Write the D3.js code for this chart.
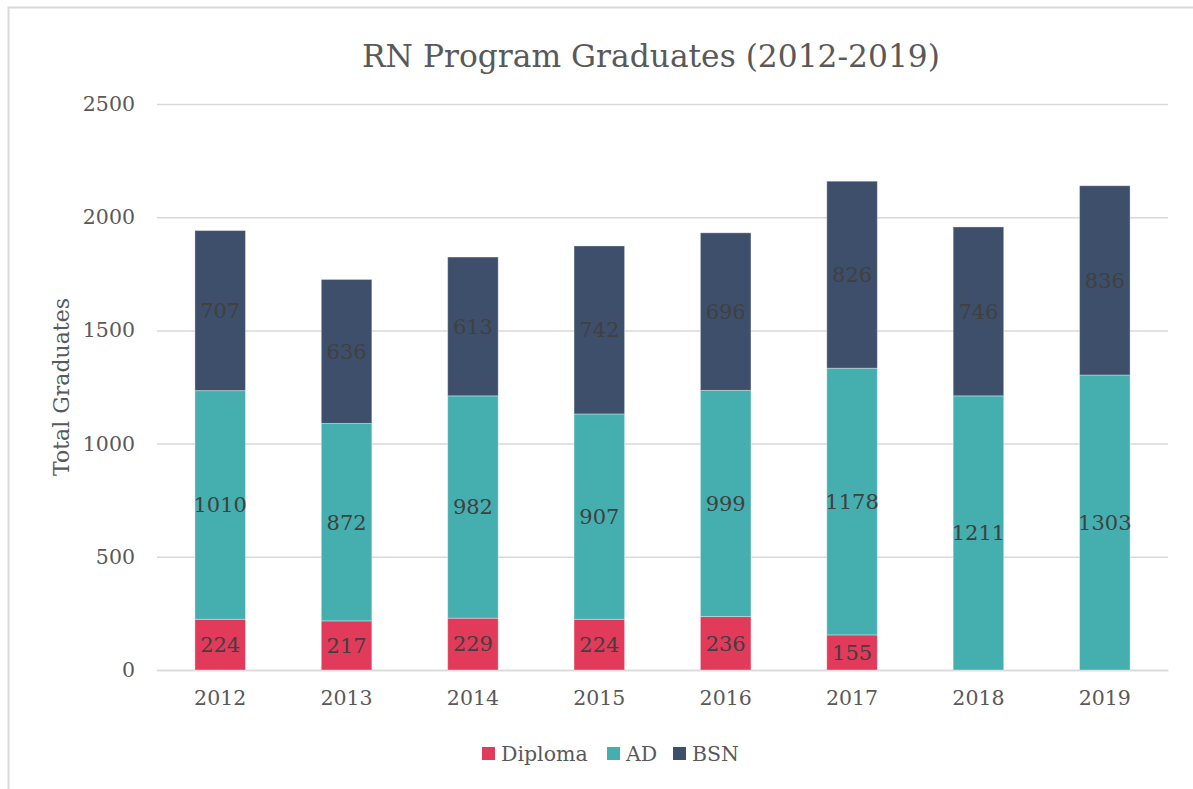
<!DOCTYPE html>
<html><head><meta charset="utf-8">
<script src="https://cdn.jsdelivr.net/npm/d3@7"></script>
<style>body{margin:0;background:#fff}svg{display:block}</style>
</head><body>
<svg id="c" width="1193" height="789"></svg>
<script>
const years = ["2012","2013","2014","2015","2016","2017","2018","2019"];
const diploma = [224,217,229,224,236,155,0,0];
const ad = [1010,872,982,907,999,1178,1211,1303];
const bsn = [707,636,613,742,696,826,746,836];
const seriesNames = ["Diploma","AD","BSN"];
const colors = ["#E23A5A","#45AFAF","#3D4F6B"];
const yTicks = [0,500,1000,1500,2000,2500];

const FONT = "'DejaVu Serif', serif";
const svg = d3.select("#c");
svg.append("rect").attr("x",8.5).attr("y",7.5).attr("width",1300).attr("height",900)
  .attr("fill","#fff").attr("stroke","#d9d9d9").attr("stroke-width",2);

const m = {l:157, r:1168, t:104, b:670};
const x = d3.scaleBand().domain(years).range([m.l,m.r]).paddingInner(0.6).paddingOuter(0.3);
const y = d3.scaleLinear().domain([0,2500]).range([m.b,m.t]);

const yAxis = svg.append("g").attr("transform",`translate(${m.l},0)`)
  .call(d3.axisLeft(y).tickValues(yTicks).tickFormat(d3.format("d")).tickSize(-(m.r-m.l)).tickPadding(22));
yAxis.select(".domain").remove();
yAxis.selectAll("line").attr("stroke","#d9d9d9").attr("stroke-width",1.5);
yAxis.selectAll("text").attr("fill","#595959").style("font-family",FONT).style("font-size","20.5px");

const xAxis = svg.append("g").attr("transform",`translate(0,${m.b})`)
  .call(d3.axisBottom(x).tickSize(0).tickPadding(20));
xAxis.select(".domain").attr("stroke","#d9d9d9").attr("stroke-width",1.5);
xAxis.selectAll("text").attr("fill","#595959").style("font-family",FONT).style("font-size","20.5px");

const table = years.map((yr,i)=>({year:yr, Diploma:diploma[i], AD:ad[i], BSN:bsn[i]}));
const stack = d3.stack().keys(seriesNames)(table);

stack.forEach((s,si)=>{
  const g = svg.append("g");
  g.selectAll("rect").data(s).join("rect")
    .attr("x",d=>x(d.data.year)).attr("width",x.bandwidth())
    .attr("y",d=>y(d[1])).attr("height",d=>y(d[0])-y(d[1]))
    .attr("fill",colors[si]).attr("stroke","#ffffff").attr("stroke-opacity",0.35).attr("stroke-width",1);
  g.selectAll("text").data(s.filter(d=>d[1]-d[0]>0)).join("text")
    .attr("x",d=>x(d.data.year)+x.bandwidth()/2)
    .attr("y",d=>y((d[0]+d[1])/2))
    .attr("dy","0.35em").attr("text-anchor","middle")
    .attr("fill","#404040").style("font-family",FONT).style("font-size","21px")
    .text(d=>d[1]-d[0]);
});

svg.append("text").attr("x",651).attr("y",67).attr("text-anchor","middle")
  .attr("fill","#595959").style("font-family",FONT).style("font-size","31.3px")
  .text("RN Program Graduates (2012-2019)");

svg.append("text").attr("transform",`translate(69,387) rotate(-90)`).attr("text-anchor","middle")
  .attr("fill","#595959").style("font-family",FONT).style("font-size","22px")
  .text("Total Graduates");

const legX = [482, 607, 673];
const leg = svg.append("g");
seriesNames.forEach((n,i)=>{
  leg.append("rect").attr("x",legX[i]).attr("y",747).attr("width",13).attr("height",13).attr("fill",colors[i]);
  leg.append("text").attr("x",legX[i]+19).attr("y",753.5).attr("dy","0.35em")
    .attr("fill","#595959").style("font-family",FONT).style("font-size","20.5px").text(n);
});
</script>
</body></html>
